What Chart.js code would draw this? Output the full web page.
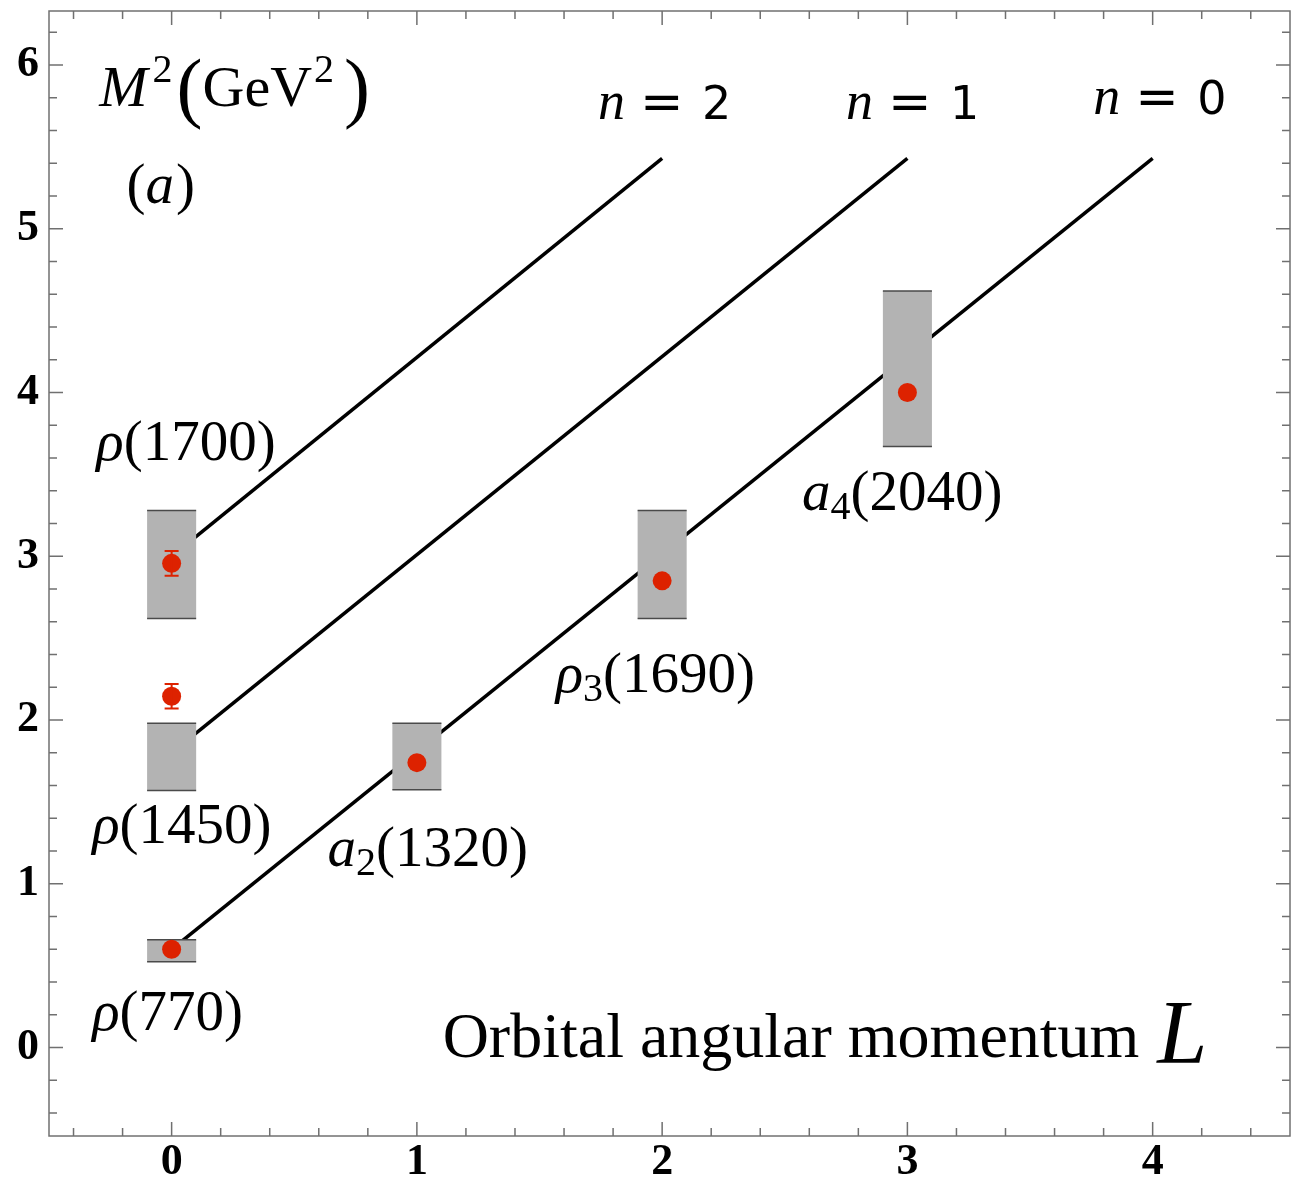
<!DOCTYPE html>
<html>
<head>
<meta charset="utf-8">
<script src="https://cdn.jsdelivr.net/npm/chart.js@4.4.1/dist/chart.umd.min.js"></script>
<style>
  body { margin: 0; background: #fff; overflow: hidden; }
  canvas { display: block; }
</style>
</head>
<body>
<canvas id="regge" width="1293" height="1180"></canvas>
<script>
// Regge trajectories n = 0, 1, 2 (straight lines in L - M^2 plane)
const trajN = [0, 1, 2];
const trajStartL = [0, 0, 0];
const trajStartM2 = [0.60, 1.80, 3.00];
const trajEndL = [4, 3, 2];
const trajEndM2 = [5.43, 5.43, 5.43];

// grey bands: predicted range of M^2 for every state
const bandL = [0, 0, 0, 1, 2, 3];
const bandLow = [0.524, 1.57, 2.62, 1.575, 2.62, 3.67];
const bandHigh = [0.658, 1.98, 3.28, 1.98, 3.28, 4.62];

// measured states (red dots)
const expL = [0, 0, 0, 1, 2, 3];
const expM2 = [0.60, 2.145, 2.957, 1.74, 2.85, 4.00];
const expErr = [0, 0.075, 0.075, 0, 0, 0];

// state names
const mesonSym = ["ρ", "ρ", "ρ", "a", "ρ", "a"];
const mesonSub = ["", "", "", "2", "3", "4"];
const mesonMass = ["770", "1450", "1700", "1320", "1690", "2040"];

// tick labels
const xTickLabels = [0, 1, 2, 3, 4];
const yTickLabels = [0, 1, 2, 3, 4, 5, 6];

const RED = "#dd2200";
const SERIF = "'Liberation Serif', 'Times New Roman', serif";
const SANS = "'DejaVu Sans', sans-serif";

// where the name labels sit (data units, left edge / baseline)
const mesonLabelAt = [
  [-0.324, 0.108], [-0.324, 1.25], [-0.307, 3.59],
  [0.636, 1.11], [1.566, 2.17], [2.570, 3.285]
];
const trajLabelAt = [[3.758, 5.70], [2.75, 5.67], [1.738, 5.67]];

function isWhole(v) {
  return Math.abs(v - Math.round(v)) < 1e-6;
}

function drawRuns(ctx, x, y, runs) {
  runs.forEach(r => {
    ctx.font = r.font;
    x += r.dx || 0;
    ctx.fillText(r.text, x, y + (r.dy || 0));
    x += ctx.measureText(r.text).width;
  });
}

const bands = {
  id: "bands",
  beforeDatasetDraw(chart, args) {
    if (args.index !== 0) return;
    const { ctx, scales: { x, y } } = chart;
    ctx.save();
    bandL.forEach((l, i) => {
      const x0 = x.getPixelForValue(l - 0.1);
      const x1 = x.getPixelForValue(l + 0.1);
      const y0 = y.getPixelForValue(bandHigh[i]);
      const y1 = y.getPixelForValue(bandLow[i]);
      ctx.fillStyle = "#b3b3b3";
      ctx.fillRect(x0, y0, x1 - x0, y1 - y0);
      ctx.strokeStyle = "#4a4a4a";
      ctx.lineWidth = 1.5;
      ctx.beginPath();
      ctx.moveTo(x0, y0); ctx.lineTo(x1, y0);
      ctx.moveTo(x0, y1); ctx.lineTo(x1, y1);
      ctx.stroke();
    });
    ctx.restore();
  },
  afterDatasetDraw(chart, args) {
    if (args.index !== 0) return;
    const { ctx, scales: { x, y } } = chart;
    ctx.save();
    ctx.strokeStyle = RED;
    ctx.lineWidth = 2;
    expL.forEach((l, i) => {
      if (!expErr[i]) return;
      const px = x.getPixelForValue(l);
      const top = y.getPixelForValue(expM2[i] + expErr[i]);
      const bot = y.getPixelForValue(expM2[i] - expErr[i]);
      ctx.beginPath();
      ctx.moveTo(px, top); ctx.lineTo(px, bot);
      ctx.moveTo(px - 7, top); ctx.lineTo(px + 7, top);
      ctx.moveTo(px - 7, bot); ctx.lineTo(px + 7, bot);
      ctx.stroke();
    });
    ctx.restore();
  }
};

// Mathematica-like frame: inward ticks on all four sides, labels left/bottom
const frame = {
  id: "frame",
  afterDraw(chart) {
    const { ctx, chartArea: a, scales: { x, y } } = chart;
    ctx.save();
    ctx.strokeStyle = "#707070";
    ctx.lineWidth = 1.5;
    ctx.strokeRect(a.left, a.top, a.right - a.left, a.bottom - a.top);
    ctx.beginPath();
    x.ticks.forEach(t => {
      const px = x.getPixelForValue(t.value);
      const len = isWhole(t.value) ? 14 : 8;
      ctx.moveTo(px, a.bottom); ctx.lineTo(px, a.bottom - len);
      ctx.moveTo(px, a.top); ctx.lineTo(px, a.top + len);
    });
    y.ticks.forEach(t => {
      const py = y.getPixelForValue(t.value);
      const len = isWhole(t.value) ? 14 : 8;
      ctx.moveTo(a.left, py); ctx.lineTo(a.left + len, py);
      ctx.moveTo(a.right, py); ctx.lineTo(a.right - len, py);
    });
    ctx.stroke();

    ctx.fillStyle = "#000";
    ctx.font = "bold 44px " + SERIF;
    ctx.textBaseline = "middle";
    ctx.textAlign = "right";
    yTickLabels.forEach(v => ctx.fillText(String(v), a.left - 10, y.getPixelForValue(v)));
    ctx.textAlign = "center";
    xTickLabels.forEach(v => ctx.fillText(String(v), x.getPixelForValue(v), a.bottom + 27));
    ctx.restore();

    // texts
    ctx.save();
    ctx.fillStyle = "#000";
    ctx.textBaseline = "alphabetic";
    const P = (l, m) => [x.getPixelForValue(l), y.getPixelForValue(m)];

    mesonSym.forEach((s, i) => {
      const [px, py] = P(mesonLabelAt[i][0], mesonLabelAt[i][1]);
      drawRuns(ctx, px, py, [
        { text: s, font: "italic 57px " + SERIF },
        { text: mesonSub[i], font: "40px " + SERIF, dy: 9 },
        { text: "(" + mesonMass[i] + ")", font: "57px " + SERIF }
      ]);
    });

    trajN.forEach((n, i) => {
      const [px, py] = P(trajLabelAt[i][0], trajLabelAt[i][1]);
      ctx.font = "italic 54px " + SERIF;
      ctx.fillText("n", px, py);
      ctx.font = "52px " + SANS;
      ctx.fillText("=", px + 42, py);
      ctx.font = "46px " + SANS;
      ctx.fillText(String(n), px + 104, py);
    });

    let [px, py] = P(-0.295, 5.75);
    drawRuns(ctx, px, py, [
      { text: "M", font: "italic 58px " + SERIF },
      { text: "2", font: "40px " + SERIF, dy: -24, dx: 5 },
      { text: "(", font: "78px " + SERIF, dy: 7, dx: 4 },
      { text: "GeV", font: "58px " + SERIF },
      { text: "2", font: "40px " + SERIF, dy: -24, dx: 2 },
      { text: ")", font: "78px " + SERIF, dy: 7, dx: 10 }
    ]);

    [px, py] = P(-0.184, 5.16);
    drawRuns(ctx, px, py, [
      { text: "(", font: "57px " + SERIF },
      { text: "a", font: "italic 57px " + SERIF },
      { text: ")", font: "57px " + SERIF, dx: 2 }
    ]);

    [px, py] = P(1.105, -0.057);
    drawRuns(ctx, px, py, [
      { text: "Orbital angular momentum", font: "64px " + SERIF },
      { text: "L", font: "italic 90px " + SERIF, dx: 18, dy: 6 }
    ]);
    ctx.restore();
  }
};

const lineSets = trajN.map((n, i) => ({
  type: "scatter",
  label: "n = " + n,
  data: [
    { x: trajStartL[i], y: trajStartM2[i] },
    { x: trajEndL[i], y: trajEndM2[i] }
  ],
  showLine: true,
  borderColor: "#000",
  borderWidth: 3.5,
  pointRadius: 0,
  fill: false
}));

new Chart(document.getElementById("regge"), {
  type: "scatter",
  data: {
    datasets: [
      {
        label: "experiment",
        data: expL.map((l, i) => ({ x: l, y: expM2[i] })),
        backgroundColor: RED,
        borderWidth: 0,
        pointRadius: 9.5
      },
      ...lineSets
    ]
  },
  options: {
    responsive: false,
    animation: false,
    layout: { autoPadding: false, padding: { top: 11, right: 3, left: 49, bottom: 44 } },
    plugins: { legend: { display: false }, tooltip: { enabled: false } },
    scales: {
      x: {
        display: false,
        min: -0.5,
        max: 4.56,
        ticks: { stepSize: 0.2, autoSkip: false, includeBounds: false }
      },
      y: {
        display: false,
        min: -0.54,
        max: 6.33,
        ticks: { stepSize: 0.2, autoSkip: false, includeBounds: false }
      }
    }
  },
  plugins: [bands, frame]
});
</script>
</body>
</html>
